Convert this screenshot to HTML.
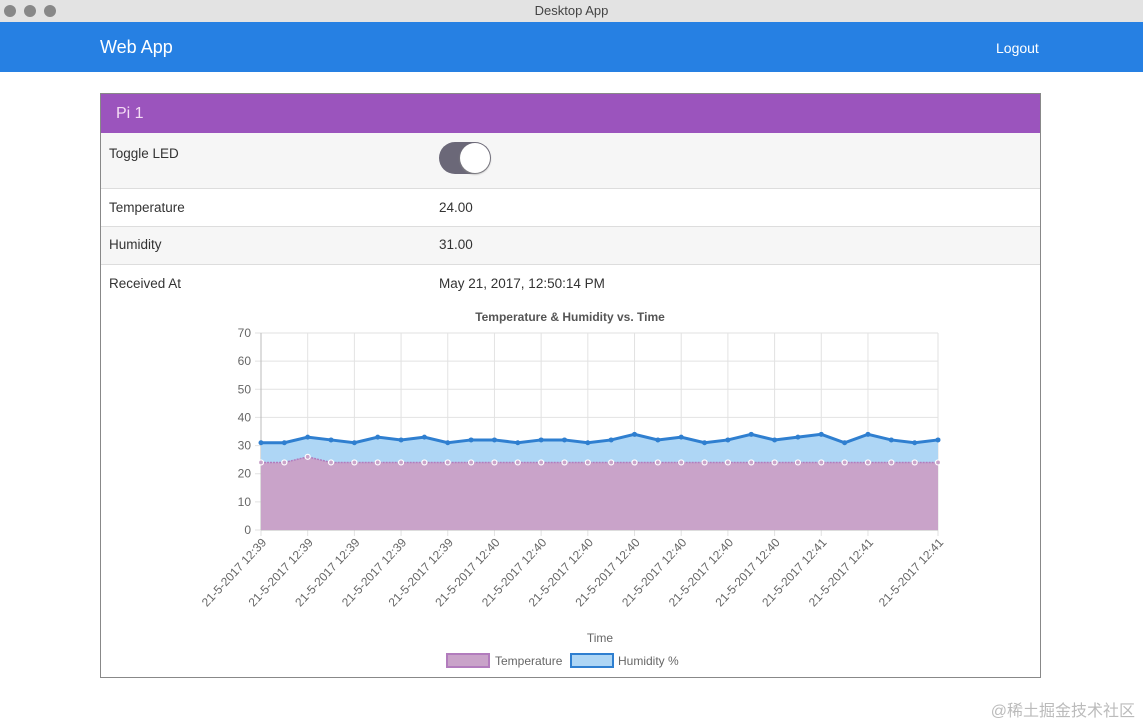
<!DOCTYPE html>
<html><head><meta charset="utf-8"><style>
body{margin:0;width:1143px;height:727px;background:#fff;font-family:"Liberation Sans",sans-serif;position:relative;overflow:hidden}
.tb{position:absolute;left:0;top:0;width:1143px;height:22px;background:#e3e3e3;text-align:center;font-size:13px;line-height:22px;color:#444}
.dot{position:absolute;top:5px;width:12px;height:12px;border-radius:50%;background:#888}
.nav{position:absolute;left:0;top:22px;width:1143px;height:50px;background:#2680e3;color:#fff}
.card{position:absolute;left:100px;top:93px;width:939px;height:583px;border:1px solid #888}
.hdr{height:39px;background:#9b54bd;color:#f4dcf4;font-size:16px;line-height:39px;padding-left:15px}
.row{position:relative;border-bottom:1px solid #ddd;font-size:13.5px;color:#333}
.row .l{position:absolute;left:8px}.row .v{position:absolute;left:338px}
</style></head><body>
<div class="tb">Desktop App
<div class="dot" style="left:4px"></div>
<div class="dot" style="left:24px"></div>
<div class="dot" style="left:44px"></div></div>
<div class="nav">
<span style="position:absolute;left:100px;top:15px;font-size:18px">Web App</span>
<span style="position:absolute;left:996px;top:18px;font-size:14px">Logout</span></div>
<div class="card">
<div class="hdr">Pi 1</div>
<div class="row" style="height:55px;background:#f6f6f6"><span class="l" style="top:13px">Toggle LED</span>
<div style="position:absolute;left:338px;top:9px;width:52px;height:32px;border-radius:16px;background:#6b6878"><div style="position:absolute;right:1px;top:1px;width:30px;height:30px;border-radius:50%;background:#fff;box-shadow:0 1px 2px #888"></div></div></div>
<div class="row" style="height:37px"><span class="l" style="top:11px">Temperature</span><span class="v" style="top:11px">24.00</span></div>
<div class="row" style="height:37px;background:#f6f6f6"><span class="l" style="top:10px">Humidity</span><span class="v" style="top:10px">31.00</span></div>
<div class="row" style="height:37px;border:none"><span class="l" style="top:11px">Received At</span><span class="v" style="top:11px">May 21, 2017, 12:50:14 PM</span></div>
</div>
<svg id="ch" width="1143" height="727" style="position:absolute;left:0;top:0"></svg>
<script>
const labels=["21-5-2017 12:39","21-5-2017 12:39","21-5-2017 12:39","21-5-2017 12:39","21-5-2017 12:39","21-5-2017 12:39","21-5-2017 12:39","21-5-2017 12:39","21-5-2017 12:39","21-5-2017 12:39","21-5-2017 12:40","21-5-2017 12:40","21-5-2017 12:40","21-5-2017 12:40","21-5-2017 12:40","21-5-2017 12:40","21-5-2017 12:40","21-5-2017 12:40","21-5-2017 12:40","21-5-2017 12:40","21-5-2017 12:40","21-5-2017 12:40","21-5-2017 12:40","21-5-2017 12:40","21-5-2017 12:41","21-5-2017 12:41","21-5-2017 12:41","21-5-2017 12:41","21-5-2017 12:41","21-5-2017 12:41"];
const temperature=[24,24,26,24,24,24,24,24,24,24,24,24,24,24,24,24,24,24,24,24,24,24,24,24,24,24,24,24,24,24];
const humidity=[31,31,33,32,31,33,32,33,31,32,32,31,32,32,31,32,34,32,33,31,32,34,32,33,34,31,34,32,31,32];
const yTicks=[0,10,20,30,40,50,60,70];
const shownLabels=[0,2,4,6,8,10,12,14,16,18,20,22,24,26,29];
const X0=261,X1=938,Y0=530,Y1=333;
const sx=i=>X0+(X1-X0)*i/(labels.length-1);
const sy=v=>Y0-(Y0-Y1)*v/70;
const svg=document.getElementById('ch');const NS='http://www.w3.org/2000/svg';
function mk(t,a,txt){const e=document.createElementNS(NS,t);for(const k in a)e.setAttribute(k,a[k]);if(txt!=null)e.textContent=txt;svg.appendChild(e);return e;}
let e=mk('text',{x:570,y:321,'text-anchor':'middle','font-size':12,'font-weight':'bold',fill:'#555'},'Temperature & Humidity vs. Time');

yTicks.forEach(v=>{mk('line',{x1:255,x2:X1,y1:sy(v),y2:sy(v),stroke:'#e2e2e2'});
e=mk('text',{x:251,y:sy(v)+4,'text-anchor':'end','font-size':12,fill:'#666'},v);
});
shownLabels.forEach(i=>{mk('line',{x1:sx(i),x2:sx(i),y1:Y1,y2:Y0+6,stroke:'#e2e2e2'});
e=mk('text',{x:sx(i)+6,y:543,'text-anchor':'end','font-size':12,fill:'#666',transform:`rotate(-47 ${sx(i)+6} 543)`},labels[i]);
});
mk('line',{x1:X0,x2:X0,y1:Y1,y2:Y0,stroke:'#bbb'});mk('line',{x1:X0,x2:X1,y1:Y0,y2:Y0,stroke:'#bbb'});
function pts(d){return d.map((v,i)=>sx(i)+','+sy(v)).join(' ');}
e=mk('polygon',{points:pts(humidity)+` ${X1},${Y0} ${X0},${Y0}`,fill:'#aed6f5'});

e=mk('polygon',{points:pts(temperature)+` ${X1},${Y0} ${X0},${Y0}`,fill:'#c9a3c9'});

mk('polyline',{points:pts(humidity),fill:'none',stroke:'#2f7fd0','stroke-width':3});
mk('polyline',{points:pts(temperature),fill:'none',stroke:'#b27cbd','stroke-width':1.5,'stroke-dasharray':'2 1'});
humidity.forEach((v,i)=>{e=mk('circle',{cx:sx(i),cy:sy(v),r:2.5,fill:'#2f7fd0'});});
temperature.forEach((v,i)=>{e=mk('circle',{cx:sx(i),cy:sy(v),r:2.5,fill:'#c9a3c9',stroke:'#fff','stroke-width':1.2});});
e=mk('text',{x:600,y:642,'text-anchor':'middle','font-size':12,fill:'#666'},'Time');

e=mk('rect',{x:447,y:654,width:42,height:13,fill:'#c9a3c9',stroke:'#b27cbd','stroke-width':2});

e=mk('text',{x:495,y:665,'font-size':12,fill:'#666'},'Temperature');

e=mk('rect',{x:571,y:654,width:42,height:13,fill:'#aed6f5',stroke:'#2f7fd0','stroke-width':2});

e=mk('text',{x:618,y:665,'font-size':12,fill:'#666'},'Humidity %');

</script>
<div style="position:absolute;right:8px;bottom:6px;font-size:16px;color:#bbb;font-family:'Liberation Sans','Noto Sans CJK SC',sans-serif">@稀土掘金技术社区</div>
</body></html>
